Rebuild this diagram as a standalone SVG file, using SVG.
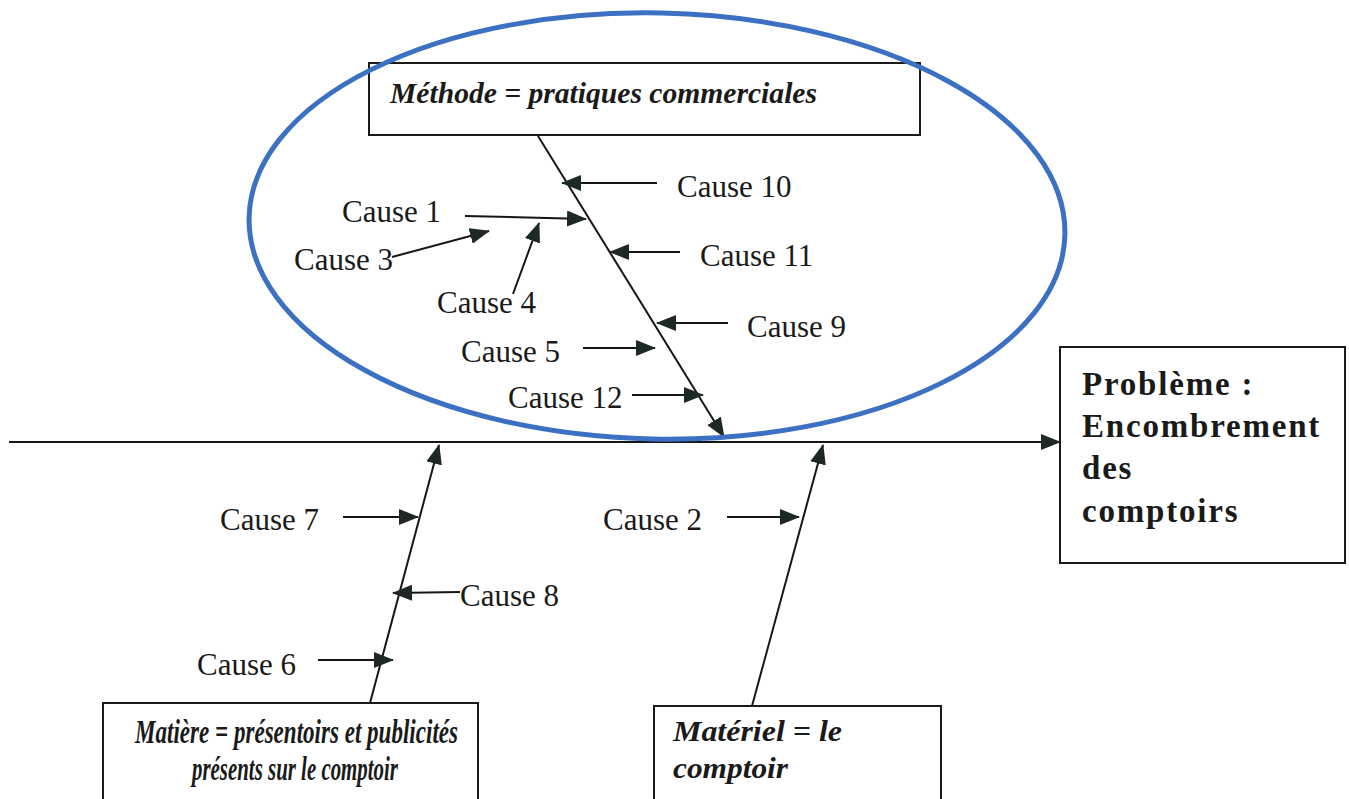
<svg xmlns="http://www.w3.org/2000/svg" width="1349" height="799" viewBox="0 0 1349 799">
<defs>
<marker id="ah" viewBox="0 0 20 16" refX="19" refY="8" markerWidth="20" markerHeight="16" markerUnits="userSpaceOnUse" orient="auto">
<path d="M0,0 L20,8 L0,16 z" fill="#1d2922"/>
</marker>
<style>
.ln{stroke:#161616;stroke-width:2;fill:none}
.ar{stroke:#161616;stroke-width:2;fill:none;marker-end:url(#ah)}
.box{fill:#fff;stroke:#1a1a1a;stroke-width:2}
.c{font-family:"Liberation Serif","Times New Roman",serif;font-size:31px;fill:#1a1a1a}
.bi{font-family:"Liberation Serif","Times New Roman",serif;font-size:30px;font-weight:bold;font-style:italic;fill:#1a1a1a}
.bim{font-family:"Liberation Serif","Times New Roman",serif;font-size:34px;font-weight:bold;font-style:italic;fill:#1a1a1a}
.b{font-family:"Liberation Serif","Times New Roman",serif;font-size:33px;font-weight:bold;fill:#1a1a1a;letter-spacing:1.8px}
</style>
</defs>
<rect width="1349" height="799" fill="#fff"/>

<g id="node-methode">
<rect class="box" x="369" y="63" width="551" height="72"/>
<text class="bi" x="390" y="103" textLength="427" lengthAdjust="spacingAndGlyphs">Méthode = pratiques commerciales</text>
</g>

<g id="node-probleme">
<rect class="box" x="1060" y="347" width="285" height="216"/>
<text class="b" x="1082" y="395">Problème :</text>
<text class="b" x="1082" y="437">Encombrement</text>
<text class="b" x="1082" y="479">des</text>
<text class="b" x="1082" y="522">comptoirs</text>
</g>

<g id="node-matiere">
<rect class="box" x="103" y="703" width="375" height="100"/>
<text class="bim" x="135" y="743" textLength="323" lengthAdjust="spacingAndGlyphs">Matière = présentoirs et publicités</text>
<text class="bim" x="192" y="780" textLength="206" lengthAdjust="spacingAndGlyphs">présents sur le comptoir</text>
</g>

<g id="node-materiel">
<rect class="box" x="654" y="706" width="287" height="100"/>
<text class="bi" x="673" y="741" textLength="169" lengthAdjust="spacingAndGlyphs">Matériel = le</text>
<text class="bi" x="673" y="778" textLength="115" lengthAdjust="spacingAndGlyphs">comptoir</text>
</g>

<g id="cause-labels">
<text class="c" x="342" y="222">Cause 1</text>
<text class="c" x="294" y="270">Cause 3</text>
<text class="c" x="437" y="313">Cause 4</text>
<text class="c" x="461" y="362">Cause 5</text>
<text class="c" x="508" y="408">Cause 12</text>
<text class="c" x="677" y="197">Cause 10</text>
<text class="c" x="700" y="266">Cause 11</text>
<text class="c" x="747" y="337">Cause 9</text>
<text class="c" x="220" y="530">Cause 7</text>
<text class="c" x="460" y="606">Cause 8</text>
<text class="c" x="197" y="675">Cause 6</text>
<text class="c" x="603" y="530">Cause 2</text>
</g>

<g id="connectors">
<line class="ar" x1="9" y1="442" x2="1060" y2="442"/>
<line class="ar" x1="538" y1="136" x2="724" y2="437"/>
<line class="ar" x1="370" y1="703" x2="439" y2="445"/>
<line class="ar" x1="752" y1="706" x2="823" y2="445"/>
<line class="ar" x1="465" y1="216" x2="586" y2="219"/>
<line class="ar" x1="392" y1="257" x2="489" y2="231"/>
<line class="ar" x1="513" y1="294" x2="539" y2="223"/>
<line class="ar" x1="583" y1="348" x2="655" y2="348"/>
<line class="ar" x1="632" y1="395" x2="703" y2="395"/>
<line class="ar" x1="657" y1="183" x2="562" y2="183"/>
<line class="ar" x1="680" y1="252" x2="610" y2="252"/>
<line class="ar" x1="728" y1="323" x2="657" y2="323"/>
<line class="ar" x1="343" y1="517" x2="418" y2="517"/>
<line class="ar" x1="460" y1="592" x2="393" y2="593"/>
<line class="ar" x1="318" y1="660" x2="393" y2="660"/>
<line class="ar" x1="727" y1="517" x2="799" y2="517"/>
</g>

<g id="highlight">
<ellipse cx="657" cy="226" rx="408" ry="213" transform="rotate(1.2 657 226)" fill="none" stroke="#3b70c2" stroke-width="5"/>
</g>
</svg>
